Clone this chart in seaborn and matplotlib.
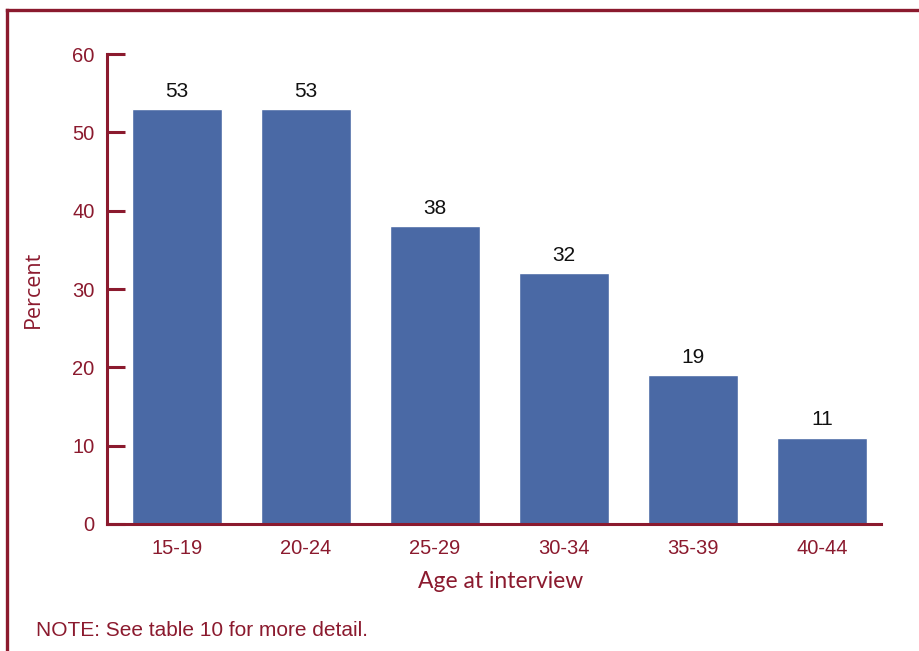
import matplotlib
matplotlib.use("Agg")
import matplotlib.pyplot as plt
from matplotlib.lines import Line2D
import pandas as pd
import seaborn as sns

# 数据
age_groups = ["15-19", "20-24", "25-29", "30-34", "35-39", "40-44"]
percent = [53, 53, 38, 32, 19, 11]
y_ticks = [0, 10, 20, 30, 40, 50, 60]

DARK_RED = "#8b1a2e"
BAR_BLUE = "#4a69a5"

sns.set_theme(style="white")
plt.rcParams["font.family"] = ["Liberation Sans", "DejaVu Sans"]

df = pd.DataFrame({"age": age_groups, "percent": percent})

fig = plt.figure(figsize=(9.19, 6.51), dpi=100)
ax = fig.add_axes([0.1164, 0.1951, 0.8423, 0.7219])

sns.barplot(data=df, x="age", y="percent", color=BAR_BLUE, saturation=1,
            width=0.70, ax=ax)

for p, v in zip(ax.patches, percent):
    ax.annotate(f"{v}", (p.get_x() + p.get_width() / 2, p.get_height()),
                xytext=(0, 6), textcoords="offset points",
                ha="center", va="bottom", fontsize=15, color="#111111")

ax.set_ylim(0, 60)
ax.set_xlim(-0.543, 5.457)
ax.set_yticks(y_ticks)

for side in ["top", "right"]:
    ax.spines[side].set_visible(False)
for side in ["left", "bottom"]:
    ax.spines[side].set_color(DARK_RED)
    ax.spines[side].set_linewidth(2.2)

ax.tick_params(axis="y", direction="in", length=13, width=2.2, color=DARK_RED,
               labelcolor=DARK_RED, labelsize=14.5, pad=9, left=True)
ax.tick_params(axis="x", length=0, labelcolor=DARK_RED, labelsize=14.5, pad=11)

ax.set_xlabel("Age at interview", color=DARK_RED, fontsize=16.5, labelpad=9,
              family=["Lato", "DejaVu Sans"])
ax.xaxis.set_label_coords(0.509, -0.101)
ax.set_ylabel("Percent", color=DARK_RED, fontsize=15.5, labelpad=20,
              family=["Open Sans", "DejaVu Sans"])

# 外框
fig.add_artist(Line2D([0.0078, 0.0078], [0.0, 0.985], color=DARK_RED, lw=2.4,
                      transform=fig.transFigure, solid_capstyle="projecting"))
fig.add_artist(Line2D([0.0078, 1.0], [0.985, 0.985], color=DARK_RED, lw=2.4,
                      transform=fig.transFigure, solid_capstyle="projecting"))

fig.text(0.039, 0.031, "NOTE: See table 10 for more detail.", color=DARK_RED,
         fontsize=15, ha="left", va="center")

fig.savefig("out.png", dpi=100)
